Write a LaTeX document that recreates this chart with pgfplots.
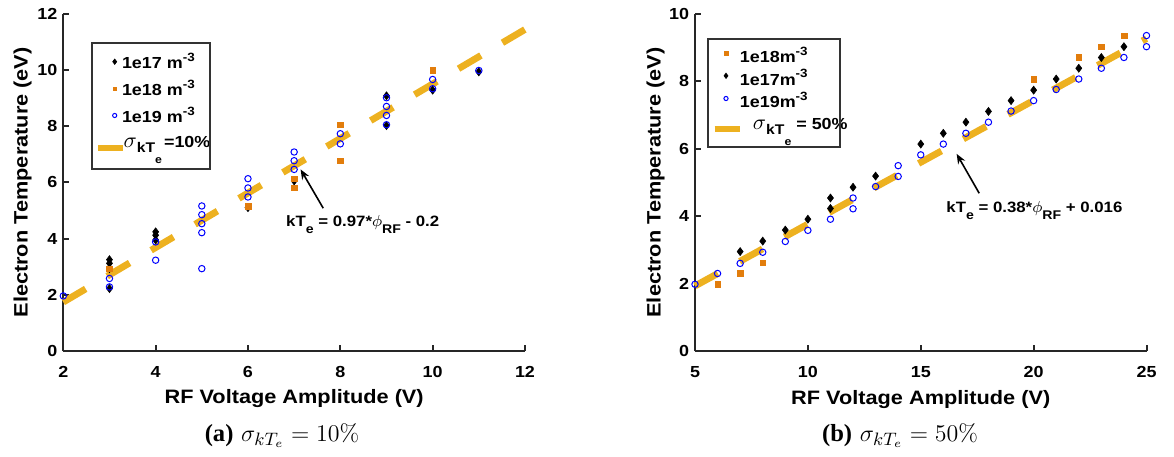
\documentclass[border=0pt]{standalone}
\usepackage[no-math]{fontspec}
\setmainfont{Liberation Sans}[FakeStretch=1.12]
\newfontfamily\capfont{Liberation Serif}
\usepackage{pgfplots}
\pgfplotsset{compat=1.18}
\usetikzlibrary{arrows.meta}

\definecolor{fitcol}{RGB}{237,177,32}
\definecolor{dens18}{RGB}{226,125,12}
\definecolor{axcol}{RGB}{38,38,38}

\newcommand\tickfont{\fontsize{8}{8}\selectfont\bfseries}
\newcommand\labfont{\fontsize{9.7}{10}\selectfont\bfseries}
\newcommand\legfont{\fontsize{8}{8}\selectfont\bfseries}
\newcommand\notefont{\fontsize{7.5}{8}\selectfont\bfseries}
\newcommand\sups[1]{\raisebox{3.7pt}{\fontsize{6}{6}\selectfont #1}}
\newcommand\subs[1]{\raisebox{-3.3pt}{\fontsize{6.3}{6}\selectfont #1}}
\newcommand\sigmakte{{\fontsize{10.5}{10}\selectfont$\sigma$}\raisebox{-2.4pt}{\fontsize{7}{7}\selectfont kT\raisebox{-5.6pt}{\fontsize{5.5}{5}\selectfont e}}}

\pgfplotsset{
  panel/.style={
    scale only axis,
    clip=false,
    axis x line*=bottom,
    axis y line*=left,
    axis line style={line width=1pt,draw=axcol,-},
    major tick style={line width=1pt,draw=axcol},
    tick align=inside,
    major tick length=2.85pt,
    /pgf/number format/assume math mode=true,
    ticklabel style={font=\tickfont},
    xticklabel style={anchor=base,yshift=-13pt},
    yticklabel style={anchor=east,inner sep=0pt,xshift=-2.8pt},
    label style={font=\labfont},
    legend cell align=left,
  },
  d17/.style={only marks,mark=diamond*,mark size=2pt,draw=black,fill=black,mark options={line width=0.3pt}},
  d18/.style={only marks,mark=square*,mark size=1.4pt,draw=dens18,fill=dens18,mark options={line width=0.2pt}},
  d19/.style={only marks,mark=o,mark size=1.6pt,draw=blue,mark options={line width=0.5pt}},
  fit/.style={fitcol,line width=3.4pt,dash pattern=on 13pt off 12.5pt,line cap=butt},
  legmarkL/.style={legend image code/.code={\path[draw=none,fill=none] (0pt,-2pt) rectangle (12.5pt,2pt);
      \draw[##1,only marks,mark size=#1] plot coordinates {(8.35pt,0.8pt)};}},
  legmarkR/.style={legend image code/.code={\path[draw=none,fill=none] (0pt,-2pt) rectangle (12.5pt,2pt);
      \draw[##1,only marks,mark size=#1] plot coordinates {(5.65pt,1.8pt)};}},
  legline/.style={legend image code/.code={\path[draw=none,fill=none] (0pt,-2pt) rectangle (12.5pt,2pt);
      \draw[##1,solid,line width=3pt] (0pt,0pt) -- (12.5pt,0pt);}},
}

\begin{document}
\begin{tikzpicture}
\useasboundingbox (0,0) rectangle (587pt,228pt);

% ---------------- (a) sigma = 10% ----------------
\begin{axis}[panel,
  at={(31.65pt,52.5pt)}, anchor=south west,
  width=230.85pt, height=168.65pt,
  xmin=2, xmax=12, ymin=0, ymax=12,
  xtick={2,4,...,12}, ytick={0,2,...,12},
  xlabel={RF Voltage Amplitude (V)},
  ylabel={Electron Temperature (eV)},
  xlabel style={at={(axis description cs:0.5,-0.1571)},anchor=base},
  ylabel style={at={(axis description cs:-0.0771,0.5)},anchor=base},
  legend style={draw=none,fill=none,inner sep=0pt,outer sep=0pt,
    at={(axis description cs:0.06866,0.89283)},anchor=north west,
    column sep=-2.0pt,row sep=0pt,
    nodes={inner sep=0pt,text height=9.575pt,text depth=3.875pt,font=\legfont}},
]
\addplot[d17,legmarkL=1.35pt] coordinates {
  (3,3.25) (3,3.12) (3,2.93) (3,2.22)
  (4,4.24) (4,4.12) (4,3.95)
  (6,5.10) (7,6.05)
  (9,9.08) (9,8.02) (10,9.28) (11,9.93)
};
\addlegendentry{1e17 m\sups{-3}}
\addplot[d18,legmarkL=0.9pt] coordinates {
  (3,2.93) (6,5.16) (7,6.13) (7,5.81)
  (8,8.05) (8,6.77) (10,9.98)
};
\addlegendentry{1e18 m\sups{-3}}
\addplot[d19,legmarkL=1.05pt] coordinates {
  (2,1.96)
  (3,2.58) (3,2.28)
  (4,3.88) (4,3.23)
  (5,5.16) (5,4.85) (5,4.53) (5,4.21) (5,2.93)
  (6,6.13) (6,5.80) (6,5.48)
  (7,7.08) (7,6.77) (7,6.46)
  (8,7.73) (8,7.37)
  (9,9.01) (9,8.70) (9,8.38) (9,8.05)
  (10,9.66) (10,9.33)
  (11,9.98)
};
\addlegendentry{1e19 m\sups{-3}}
\addplot[fit,legline] coordinates {(2,1.74) (12,11.44)};
\addlegendentry[text height=8.425pt,text depth=9.425pt]{\hspace{0.8pt}\sigmakte\hspace{1pt}=10\%}

\draw[-{Stealth[length=5pt,width=4pt]},line width=0.8pt,black]
  (axis cs:7.63,5.08) -- (axis cs:7.14,6.46);
\node[anchor=base west,inner sep=0pt,font=\notefont] at (axis cs:6.82,4.42)
  {kT\subs{e} = 0.97*{\fontsize{8.5}{9}\selectfont$\phi$}\subs{RF} - 0.2};
\end{axis}
\draw[line width=0.85pt,draw=black!80] (46pt,206.5pt) rectangle (105pt,143.5pt);
\node[anchor=base,inner sep=0pt] at (141pt,7.5pt)
  {\fontsize{12.3}{14}\selectfont{\capfont\bfseries (a)}\ $\sigma_{kT_e}=10\%$};

% ---------------- (b) sigma = 50% ----------------
\begin{axis}[panel,
  at={(347.5pt,52.5pt)}, anchor=south west,
  width=225.75pt, height=168.5pt,
  xmin=5, xmax=25, ymin=0, ymax=10,
  xtick={5,10,...,25}, ytick={0,2,...,10},
  xlabel={RF Voltage Amplitude (V)},
  ylabel={Electron Temperature (eV)},
  xlabel style={at={(axis description cs:0.5,-0.1573)},anchor=base},
  ylabel style={at={(axis description cs:-0.0762,0.5)},anchor=base},
  legend style={draw=none,fill=none,inner sep=0pt,outer sep=0pt,
    at={(axis description cs:0.03699,0.90697)},anchor=north west,
    column sep=-1.4pt,row sep=0pt,
    nodes={inner sep=0pt,text height=8.525pt,text depth=2.825pt,font=\legfont}},
]
\addplot[d18,legmarkR=0.9pt] coordinates {
  (6,1.98) (7,2.30) (8,2.62)
  (20,8.07) (22,8.71) (23,9.03) (24,9.36)
};
\addlegendentry{1e18m\sups{-3}}
\addplot[d17,legmarkR=1.35pt] coordinates {
  (7,2.95) (8,3.26) (9,3.59) (10,3.91)
  (11,4.54) (11,4.23) (12,4.86) (13,5.19)
  (15,6.14) (16,6.46) (17,6.79) (18,7.11)
  (19,7.43) (20,7.74) (21,8.07) (22,8.39)
  (23,8.71) (24,9.03)
};
\addlegendentry{1e17m\sups{-3}}
\addplot[d19,legmarkR=1.05pt] coordinates {
  (5,1.98) (6,2.30) (7,2.60) (8,2.93) (9,3.25) (10,3.58) (11,3.91)
  (12,4.54) (12,4.22) (13,4.88) (14,5.50) (14,5.18) (15,5.82)
  (16,6.14) (17,6.46) (18,6.79) (19,7.12) (20,7.43) (21,7.76)
  (22,8.07) (23,8.39) (24,8.71) (25,9.03) (25,9.36)
};
\addlegendentry{1e19m\sups{-3}}
\addplot[fit,legline] coordinates {(5,1.93) (25,9.27)};
\addlegendentry[text height=8.15pt,text depth=7.8pt]{\hspace{6.5pt}\sigmakte\ = 50\%}

\draw[-{Stealth[length=5pt,width=4pt]},line width=0.8pt,black]
  (axis cs:17.59,4.68) -- (axis cs:16.59,5.85);
\node[anchor=base west,inner sep=0pt,font=\notefont] at (axis cs:16.12,4.10)
  {kT\subs{e} = 0.38*{\fontsize{8.5}{9}\selectfont$\phi$}\subs{RF} + 0.016};
\end{axis}
\draw[line width=0.85pt,draw=black!80] (354pt,208.5pt) rectangle (420pt,154.5pt);
\node[anchor=base,inner sep=0pt] at (450pt,7.5pt)
  {\fontsize{12.3}{14}\selectfont{\capfont\bfseries (b)}\ $\sigma_{kT_e}=50\%$};
\end{tikzpicture}
\end{document}
